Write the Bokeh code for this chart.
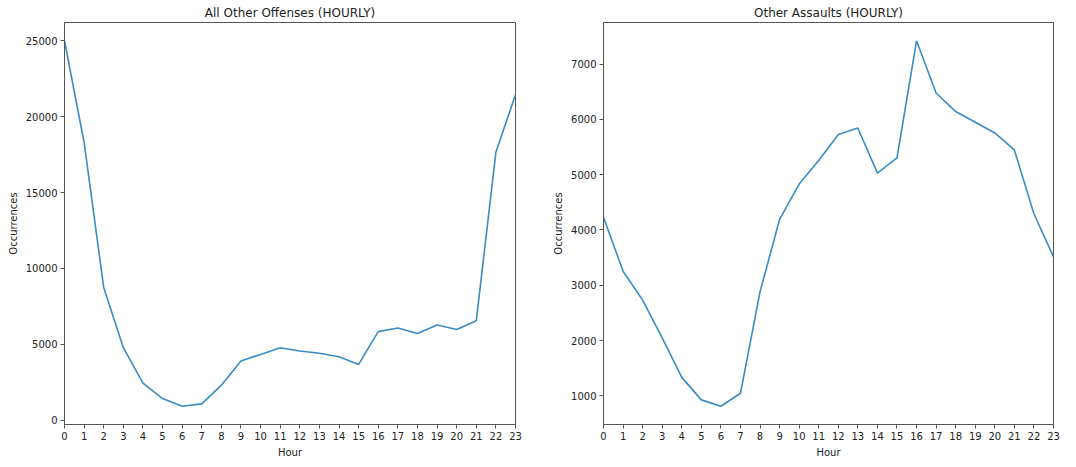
from bokeh.plotting import figure
from bokeh.layouts import row
from bokeh.models import Range1d, FixedTicker
from bokeh.embed import file_html
from bokeh.resources import INLINE

hours = list(range(24))
other_offenses = [25000, 18300, 8750, 4780, 2450, 1430, 925, 1080, 2310, 3900, 4340, 4780,
                  4560, 4410, 4190, 3680, 5840, 6080, 5710, 6280, 5975, 6550, 17650, 21450]
other_assaults = [4230, 3254, 2731, 2050, 1335, 928, 813, 1047, 2880, 4190, 4830, 5256,
                  5725, 5844, 5027, 5303, 7420, 6475, 6140, 5947, 5754, 5447, 4293, 3512]
titles = ["All Other Offenses (HOURLY)", "Other Assaults (HOURLY)"]
left_ticks = [0, 5000, 10000, 15000, 20000, 25000]
right_ticks = [1000, 2000, 3000, 4000, 5000, 6000, 7000]

FONT = "DejaVu Sans"
LINE_COLOR = "#3b8bc4"
SPINE = "#555555"


def make(title, values, ticks, border_left, border_right, frame_w):
    lo, hi = min(values), max(values)
    pad = (hi - lo) * 0.05
    p = figure(frame_width=frame_w, frame_height=402,
               x_range=Range1d(0, 23), y_range=Range1d(lo - pad, hi + pad),
               output_backend="svg", toolbar_location=None,
               min_border_left=border_left, min_border_right=border_right,
               min_border_top=22, min_border_bottom=35)
    p.title.text = title
    p.title.align = "center"
    p.title.text_font = FONT
    p.title.text_font_size = "12px"
    p.title.text_font_style = "normal"
    p.title.text_color = "#222222"
    p.title.standoff = 6
    p.line(hours, values, line_color=LINE_COLOR, line_width=1.6)
    p.xgrid.visible = False
    p.ygrid.visible = False
    p.outline_line_color = SPINE
    p.outline_line_width = 1
    p.background_fill_color = "white"
    p.border_fill_color = "white"
    p.xaxis.ticker = FixedTicker(ticks=hours)
    p.yaxis.ticker = FixedTicker(ticks=ticks)
    p.xaxis.axis_label = "Hour"
    p.yaxis.axis_label = "Occurrences"
    for ax in (p.xaxis[0], p.yaxis[0]):
        ax.axis_line_color = SPINE
        ax.major_tick_line_color = SPINE
        ax.major_tick_out = 4
        ax.major_tick_in = 0
        ax.minor_tick_line_color = None
        ax.major_label_text_font = FONT
        ax.major_label_text_font_size = "10px"
        ax.major_label_text_color = "#222222"
        ax.axis_label_text_font = FONT
        ax.axis_label_text_font_size = "10px"
        ax.axis_label_text_font_style = "normal"
        ax.axis_label_text_color = "#222222"
        ax.major_label_standoff = 3
        ax.axis_label_standoff = 4
    return p


p1 = make(titles[0], other_offenses, left_ticks, 64, 25, 451)
p2 = make(titles[1], other_assaults, right_ticks, 63, 15, 450)
layout = row(p1, p2)

open("out.html", "w").write(file_html(layout, INLINE))
